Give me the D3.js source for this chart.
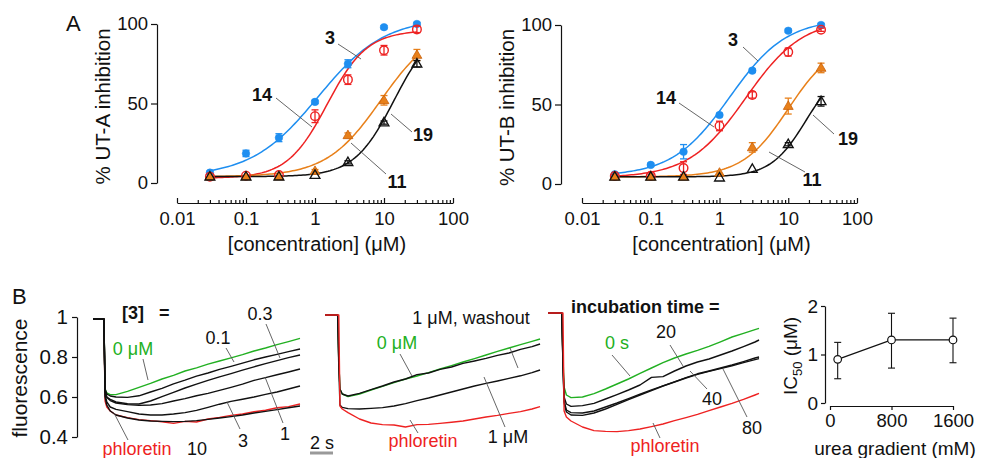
<!DOCTYPE html>
<html><head><meta charset="utf-8">
<script src="https://cdn.jsdelivr.net/npm/d3@7"></script>
<style>
body{margin:0;background:#fff}
svg{font-family:Arial,"Liberation Sans",Helvetica,sans-serif}
</style></head>
<body><svg id="c" width="982" height="458"></svg>
<script>
// ---------- Panel A data ----------
const concentrations = [0.03, 0.1, 0.3, 1, 3, 10, 30];
const xTickValues = [0.01, 0.1, 1, 10, 100];
const xTickLabels = ["0.01", "0.1", "1", "10", "100"];
const yTickValuesA = [0, 50, 100];

const utA_c3 = [6.5, 18.6, 28.5, 51, 75, 98, 100];
const utA_c3_err = [1, 2, 2.5, 1, 2.5, 1, 1];
const utA_c14 = [4, 4.6, 5, 42, 65, 83.5, 96.6];
const utA_c14_err = [0.5, 0.5, 0.5, 4, 3, 3, 2];
const utA_c19 = [4, 4, 4, 7.5, 30, 52, 80.5];
const utA_c19_err = [0.5, 0.5, 0.5, 1, 1.5, 3, 3.5];
const utA_c11 = [4, 4, 4, 5, 13, 38, 75];
const utA_c11_err = [0.5, 0.5, 0.5, 0.5, 1, 1, 2];
// fitted Hill parameters: [bottom, top, IC50, hill]
const utA_fit3 = [4, 104, 1.1, 0.9];
const utA_fit14 = [3, 96, 1.5, 1.5];
const utA_fit19 = [4, 100, 9, 1.1];
const utA_fit11 = [4, 100, 14, 1.5];

const utB_c3 = [6.1, 12, 20.3, 43.4, 71.3, 96.4, 100];
const utB_c3_err = [1, 1, 4.5, 1, 1, 1, 1];
const utB_c14 = [5, 5.2, 10, 36.5, 56, 83, 97];
const utB_c14_err = [1, 1, 4, 3, 2, 2.5, 1];
const utB_c19 = [4.5, 4.5, 4.5, 7, 23, 49, 73];
const utB_c19_err = [0.5, 0.5, 0.5, 0.5, 3, 5, 3];
const utB_c11 = [4.5, 4.5, 4.5, 4, 9.4, 25, 52];
const utB_c11_err = [0.5, 0.5, 0.5, 0.5, 0.5, 1, 3];
const utB_fit3 = [5, 104, 1.4, 1.05];
const utB_fit14 = [4, 104, 2.4, 1.05];
const utB_fit19 = [4.5, 90, 10, 1.3];
const utB_fit11 = [4.5, 75, 18, 1.7];

// ---------- Panel B data (fluorescence traces) ----------
const yTickValuesB = [0.4, 0.6, 0.8, 1];
const yTickLabelsB = ["0.4", "0.6", "0.8", "1"];

const tB1 = [0, 0.8, 0.95, 1.05, 1.2, 1.5, 2, 3, 4, 5, 6, 7, 8, 9, 10, 11, 12, 13, 14, 15, 16, 17, 18];
const b1_0uM = [0.99,0.99,0.99,0.64,0.62,0.612,0.612,0.628,0.648,0.668,0.69,0.708,0.73,0.746,0.764,0.78,0.796,0.812,0.83,0.845,0.862,0.877,0.893];
const b1_01 = [0.99,0.99,0.99,0.64,0.615,0.605,0.6,0.598,0.606,0.625,0.643,0.666,0.684,0.704,0.72,0.738,0.753,0.769,0.786,0.8,0.813,0.827,0.84];
const b1_03 = [0.99,0.99,0.99,0.635,0.6,0.588,0.575,0.566,0.565,0.58,0.602,0.623,0.645,0.664,0.683,0.701,0.717,0.734,0.751,0.767,0.782,0.797,0.81];
const b1_1 = [0.99,0.99,0.99,0.63,0.598,0.582,0.57,0.562,0.558,0.56,0.567,0.58,0.592,0.606,0.618,0.633,0.648,0.664,0.683,0.697,0.711,0.725,0.74];
const b1_3 = [0.99,0.99,0.99,0.61,0.575,0.55,0.538,0.527,0.515,0.51,0.51,0.515,0.522,0.533,0.548,0.564,0.578,0.589,0.6,0.613,0.625,0.64,0.655];
const b1_10 = [0.99,0.99,0.99,0.6,0.56,0.53,0.51,0.495,0.485,0.48,0.478,0.477,0.478,0.482,0.488,0.495,0.502,0.51,0.52,0.528,0.537,0.546,0.555];
const b1_phl = [0.99,0.99,0.99,0.58,0.55,0.53,0.51,0.497,0.487,0.482,0.476,0.468,0.478,0.475,0.49,0.498,0.508,0.515,0.526,0.534,0.546,0.552,0.565];

const tB2 = [0, 1.1, 1.2, 1.3, 1.5, 2, 3, 4, 5, 6, 7, 8, 9, 10, 11, 12, 13, 14, 15, 16, 17, 18, 18.7];
const b2_0uM = [1.01,1.01,0.78,0.64,0.615,0.602,0.615,0.635,0.653,0.672,0.69,0.705,0.722,0.74,0.757,0.775,0.792,0.81,0.828,0.845,0.862,0.878,0.89];
const b2_wash = [1.01,1.01,0.78,0.64,0.615,0.605,0.618,0.637,0.655,0.675,0.69,0.712,0.72,0.738,0.75,0.768,0.78,0.793,0.808,0.82,0.838,0.852,0.865];
const b2_1uM = [1.01,1.01,0.75,0.56,0.548,0.542,0.54,0.543,0.547,0.555,0.567,0.582,0.595,0.61,0.625,0.64,0.655,0.668,0.68,0.693,0.706,0.722,0.735];
const b2_phl = [1.01,1.01,1.01,0.555,0.54,0.522,0.49,0.47,0.462,0.46,0.45,0.462,0.463,0.468,0.474,0.48,0.49,0.5,0.508,0.518,0.527,0.54,0.552];

const tB3 = [0, 1.2, 1.3, 1.4, 1.6, 2, 3, 4, 5, 6, 7, 8, 9, 10, 11, 12, 13, 14, 15, 16, 17, 18, 18.35];
const b3_0s = [1.02,1.02,0.8,0.65,0.61,0.597,0.6,0.617,0.64,0.665,0.69,0.718,0.745,0.772,0.795,0.815,0.833,0.853,0.876,0.9,0.918,0.937,0.943];
const b3_20 = [1.02,1.02,0.78,0.6,0.565,0.553,0.557,0.568,0.59,0.612,0.635,0.66,0.698,0.702,0.73,0.755,0.775,0.79,0.81,0.83,0.852,0.875,0.885];
const b3_40 = [1.02,1.02,0.77,0.58,0.535,0.522,0.52,0.53,0.55,0.57,0.592,0.614,0.636,0.656,0.676,0.697,0.716,0.73,0.745,0.76,0.777,0.795,0.8];
const b3_80 = [1.02,1.02,0.76,0.57,0.525,0.51,0.508,0.52,0.54,0.563,0.587,0.61,0.632,0.655,0.675,0.695,0.713,0.728,0.742,0.756,0.772,0.787,0.792];
const b3_phl = [1.02,1.02,1.02,0.53,0.5,0.48,0.45,0.432,0.428,0.427,0.432,0.44,0.452,0.465,0.482,0.497,0.513,0.532,0.55,0.568,0.588,0.61,0.618];

// ---------- IC50 inset ----------
const ureaGradient = [100, 800, 1600];
const ic50 = [0.9, 1.3, 1.3];
const ic50Low = [0.5, 0.72, 0.83];
const ic50High = [1.25, 1.85, 1.75];
const ureaTicks = [0, 800, 1600];
const ureaTickLabels = ["0", "800", "1600"];
const ic50Ticks = [0, 1, 2];
const ic50TickLabels = ["0", "1", "2"];

// ---------- styling ----------
const BLUE = "#1e8ef0", RED = "#ee2222", ORANGE = "#e8801a", ORANGE_D = "#c8600a", GREEN = "#22b022";
const svg = d3.select("#c");

function styleAxis(g, fs) {
  g.selectAll("path.domain").attr("stroke", "#111").attr("stroke-width", 1.2);
  g.selectAll(".tick line").attr("stroke", "#111").attr("stroke-width", 1.2);
  g.selectAll(".tick text").attr("font-size", fs).attr("fill", "#111").attr("font-family", "Arial, 'Liberation Sans', sans-serif");
}
function leader(x1, y1, x2, y2) {
  svg.append("line").attr("x1", x1).attr("y1", y1).attr("x2", x2).attr("y2", y2)
    .attr("stroke", "#555").attr("stroke-width", 0.9);
}
function label(txt, x, y, opts = {}) {
  return svg.append("text").attr("x", x).attr("y", y).text(txt)
    .attr("font-size", opts.fs || 18).attr("fill", opts.color || "#111")
    .attr("font-weight", opts.bold ? "bold" : "normal")
    .attr("text-anchor", opts.anchor || "start");
}
const hill = (p, c) => p[0] + (p[1] - p[0]) / (1 + Math.pow(p[2] / c, p[3]));

function panelA(cfg) {
  const x = d3.scaleLog().domain([0.01, 100]).range(cfg.xr);
  const y = d3.scaleLinear().domain([0, 100]).range(cfg.yr);
  const gy = svg.append("g").attr("transform", `translate(${cfg.yAxisX},0)`)
    .call(d3.axisLeft(y).tickValues(yTickValuesA).tickSize(6).tickSizeOuter(0).tickPadding(3));
  styleAxis(gy, 18.5);
  const gx = svg.append("g").attr("transform", `translate(0,${cfg.xAxisY})`)
    .call(d3.axisBottom(x).tickValues(xTickValues).tickFormat((d, i) => xTickLabels[i]).tickSize(-5).tickSizeOuter(0).tickPadding(9));
  styleAxis(gx, 18.5);
  const minors = [];
  xTickValues.slice(0, -1).forEach(dec => { for (let k = 2; k <= 9; k++) minors.push(dec * k); });
  const gm = svg.append("g").attr("transform", `translate(0,${cfg.xAxisY})`)
    .call(d3.axisBottom(x).tickValues(minors).tickFormat("").tickSize(-3).tickSizeOuter(0));
  gm.select("path.domain").remove();
  styleAxis(gm, 18);
  svg.append("text").attr("transform", `translate(${cfg.yTitleX},${(cfg.yr[0] + cfg.yr[1]) / 2 + 3}) rotate(-90)`)
    .attr("text-anchor", "middle").attr("font-size", 20.5).attr("fill", "#111").text(cfg.yTitle);
  svg.append("text").attr("x", (cfg.xr[0] + cfg.xr[1]) / 2 + 2).attr("y", 251)
    .attr("text-anchor", "middle").attr("font-size", 20).attr("fill", "#111").text("[concentration]  (μM)");

  const grid = d3.range(0, 101).map(i => 0.03 * Math.pow(1000, i / 100));
  cfg.series.forEach(s => {
    svg.append("path").attr("d", d3.line().x(d => x(d)).y(d => y(hill(s.fit, d)))(grid))
      .attr("fill", "none").attr("stroke", s.color).attr("stroke-width", 1.5);
  });
  cfg.series.forEach(s => {
    const g = svg.append("g");
    concentrations.forEach((c, i) => {
      const v = s.vals[i], e = s.err[i];
      if (e > 0.8) {
        g.append("line").attr("x1", x(c)).attr("x2", x(c)).attr("y1", y(v - e)).attr("y2", y(v + e)).attr("stroke", s.color).attr("stroke-width", 1.3);
        [v - e, v + e].forEach(w => g.append("line").attr("x1", x(c) - 3.5).attr("x2", x(c) + 3.5).attr("y1", y(w)).attr("y2", y(w)).attr("stroke", s.color).attr("stroke-width", 1.3));
      }
      if (s.shape === "circle") {
        g.append("circle").attr("cx", x(c)).attr("cy", y(v)).attr("r", s.filled ? 3.8 : 4.3)
          .attr("fill", s.filled ? s.color : "none").attr("stroke", s.color).attr("stroke-width", s.filled ? 0.5 : 1.4);
      } else {
        g.append("path").attr("d", d3.symbol(d3.symbolTriangle, 42)())
          .attr("transform", `translate(${x(c)},${y(v) + 0.5})`)
          .attr("fill", s.filled ? s.color : "none").attr("stroke", s.filled ? ORANGE_D : "#111").attr("stroke-width", s.filled ? 0.8 : 1.3);
      }
    });
  });
}

panelA({
  xr: [177, 453], yr: [183, 24], yAxisX: 157, xAxisY: 203, yTitleX: 110, yTitle: "% UT-A inhibition",
  series: [
    { vals: utA_c3, err: utA_c3_err, fit: utA_fit3, color: BLUE, shape: "circle", filled: true },
    { vals: utA_c14, err: utA_c14_err, fit: utA_fit14, color: RED, shape: "circle", filled: false },
    { vals: utA_c19, err: utA_c19_err, fit: utA_fit19, color: ORANGE, shape: "tri", filled: true },
    { vals: utA_c11, err: utA_c11_err, fit: utA_fit11, color: "#111", shape: "tri", filled: false }
  ]
});
panelA({
  xr: [582, 857], yr: [184, 25], yAxisX: 561, xAxisY: 203, yTitleX: 514, yTitle: "% UT-B inhibition",
  series: [
    { vals: utB_c3, err: utB_c3_err, fit: utB_fit3, color: BLUE, shape: "circle", filled: true },
    { vals: utB_c14, err: utB_c14_err, fit: utB_fit14, color: RED, shape: "circle", filled: false },
    { vals: utB_c19, err: utB_c19_err, fit: utB_fit19, color: ORANGE, shape: "tri", filled: true },
    { vals: utB_c11, err: utB_c11_err, fit: utB_fit11, color: "#111", shape: "tri", filled: false }
  ]
});

// Panel A annotations
label("A", 66, 31, { fs: 22 });
label("3", 330, 44, { bold: true, anchor: "middle" }); leader(338, 44, 361, 59);
label("14", 262, 101, { bold: true, anchor: "middle" }); leader(276, 98, 312, 127);
label("19", 423, 141, { bold: true, anchor: "middle" }); leader(412, 132, 391, 114);
label("11", 397, 188, { bold: true, anchor: "middle" }); leader(386, 174, 351, 143);
label("3", 733, 46, { bold: true, anchor: "middle" }); leader(743, 47, 758, 61);
label("14", 666, 104, { bold: true, anchor: "middle" }); leader(679, 103, 714, 127);
label("19", 848, 145, { bold: true, anchor: "middle" }); leader(834, 134, 813, 115);
label("11", 812, 186, { bold: true, anchor: "middle" }); leader(805, 172, 769, 152);

// ---------- Panel B ----------
const yB = d3.scaleLinear().domain([0.4, 1]).range([437, 317]);
const gyB = svg.append("g").attr("transform", "translate(77,0)")
  .call(d3.axisLeft(yB).tickValues(yTickValuesB).tickFormat((d, i) => yTickLabelsB[i]).tickSize(5).tickSizeOuter(0).tickPadding(4));
styleAxis(gyB, 20.5);
svg.append("text").attr("transform", "translate(27,378) rotate(-90)").attr("text-anchor", "middle")
  .attr("font-size", 21).attr("fill", "#111").text("fluorescence");
label("B", 12, 304, { fs: 22 });

function tracePanel(x0, times, traces) {
  const x = d3.scaleLinear().domain([0, 1]).range([x0, x0 + 11.5]);
  const ln = d3.line().x((d, i) => x(times[i])).y(d => yB(d));
  traces.forEach(t => {
    svg.append("path").attr("d", ln(t.vals)).attr("fill", "none")
      .attr("stroke", t.color).attr("stroke-width", 1.4).attr("stroke-linejoin", "round");
  });
}
tracePanel(93, tB1, [
  { vals: b1_0uM, color: GREEN },
  { vals: b1_phl, color: RED },
  { vals: b1_10, color: "#111" },
  { vals: b1_3, color: "#111" },
  { vals: b1_1, color: "#111" },
  { vals: b1_03, color: "#111" },
  { vals: b1_01, color: "#111" }
]);
tracePanel(325, tB2, [
  { vals: b2_0uM, color: GREEN },
  { vals: b2_1uM, color: "#111" },
  { vals: b2_wash, color: "#111" },
  { vals: b2_phl, color: RED }
]);
tracePanel(548, tB3, [
  { vals: b3_0s, color: GREEN },
  { vals: b3_20, color: "#111" },
  { vals: b3_40, color: "#111" },
  { vals: b3_80, color: "#111" },
  { vals: b3_phl, color: RED }
]);

// Panel B annotations
label("[3]", 122, 319, { bold: true });
label("=", 159, 319, { bold: true });
label("0.3", 260, 320, { anchor: "middle" }); leader(266, 324, 280, 358);
label("0.1", 218, 344, { anchor: "middle" }); leader(226, 348, 234, 362);
label("0 μM", 133, 355, { anchor: "middle", color: GREEN }); leader(143, 359, 148, 380);
label("1", 285, 440, { anchor: "middle" }); leader(283, 423, 265, 377);
label("3", 243, 447, { anchor: "middle" }); leader(240, 429, 227, 402);
label("10", 197, 455, { anchor: "middle" });
label("phloretin", 137, 455, { anchor: "middle", color: RED }); leader(128, 440, 114, 413);
svg.append("line").attr("x1", 310).attr("x2", 333).attr("y1", 453).attr("y2", 453).attr("stroke", "#999").attr("stroke-width", 3);
label("2 s", 310, 449);

label("1 μM, washout", 471, 324, { anchor: "middle" }); leader(510, 348, 518, 368);
label("0 μM", 397, 349, { anchor: "middle", color: GREEN }); leader(400, 354, 412, 376);
label("1 μM", 508, 443, { anchor: "middle" }); leader(505, 427, 484, 377);
label("phloretin", 423, 447, { anchor: "middle", color: RED }); leader(418, 433, 410, 420);

label("incubation time =", 571, 313, { bold: true });
label("20", 666, 338, { anchor: "middle" }); leader(670, 345, 683, 366);
label("0 s", 617, 349, { anchor: "middle", color: GREEN }); leader(612, 355, 630, 376);
label("40", 712, 405, { anchor: "middle" }); leader(707, 389, 690, 371);
label("80", 752, 434, { anchor: "middle" }); leader(747, 417, 723, 369);
label("phloretin", 665, 452, { anchor: "middle", color: RED }); leader(660, 438, 653, 423);

// ---------- IC50 inset ----------
const xI = d3.scaleLinear().domain([0, 1600]).range([830, 953]);
const yI = d3.scaleLinear().domain([0, 2]).range([403, 306]);
const gyI = svg.append("g").attr("transform", "translate(825,0)")
  .call(d3.axisLeft(yI).tickValues(ic50Ticks).tickFormat((d, i) => ic50TickLabels[i]).tickSize(4).tickSizeOuter(0).tickPadding(3));
styleAxis(gyI, 19);
const gxI = svg.append("g").attr("transform", "translate(0,406)")
  .call(d3.axisBottom(xI).tickValues(ureaTicks).tickFormat((d, i) => ureaTickLabels[i]).tickSize(4).tickSizeOuter(0).tickPadding(4));
styleAxis(gxI, 18.5);
const yt = svg.append("text").attr("transform", "translate(797,356) rotate(-90)").attr("text-anchor", "middle")
  .attr("font-size", 19).attr("fill", "#111");
yt.append("tspan").text("IC");
yt.append("tspan").text("50").attr("font-size", 13).attr("dy", 5);
yt.append("tspan").text(" (μM)").attr("dy", -5);
svg.append("text").attr("x", 895).attr("y", 455).attr("text-anchor", "middle").attr("font-size", 19).attr("fill", "#111").text("urea gradient (mM)");
svg.append("path").attr("d", d3.line().x((d, i) => xI(ureaGradient[i])).y(d => yI(d))(ic50))
  .attr("fill", "none").attr("stroke", "#111").attr("stroke-width", 1.2);
ureaGradient.forEach((u, i) => {
  svg.append("line").attr("x1", xI(u)).attr("x2", xI(u)).attr("y1", yI(ic50Low[i])).attr("y2", yI(ic50High[i])).attr("stroke", "#111").attr("stroke-width", 1.1);
  [ic50Low[i], ic50High[i]].forEach(w => svg.append("line").attr("x1", xI(u) - 3.5).attr("x2", xI(u) + 3.5).attr("y1", yI(w)).attr("y2", yI(w)).attr("stroke", "#111").attr("stroke-width", 1.1));
  svg.append("circle").attr("cx", xI(u)).attr("cy", yI(ic50[i])).attr("r", 3.8).attr("fill", "#fff").attr("stroke", "#111").attr("stroke-width", 1.2);
});
</script></body></html>
